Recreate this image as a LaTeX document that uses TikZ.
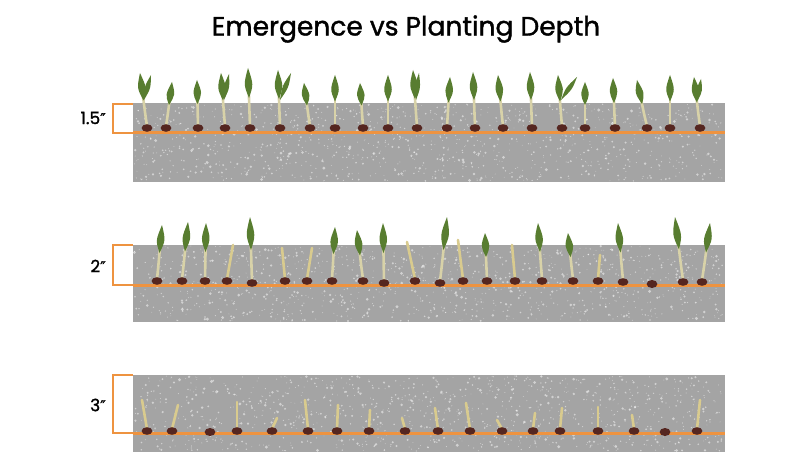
\documentclass[tikz,border=0pt]{standalone}
\usepackage{fontspec}
\setmainfont{Poppins}
\newfontfamily\titlefont{Poppins}[FakeBold=1.3]
\newfontfamily\primefont{DejaVu Sans}[FakeBold=1]
\usetikzlibrary{calc}
\definecolor{soil}{HTML}{A4A4A4}
\definecolor{depthorange}{HTML}{EE9340}
\definecolor{leafgreen}{HTML}{587D30}
\definecolor{stemcream}{HTML}{D8D2A8}
\definecolor{sproutcream}{HTML}{D9CB8E}
\definecolor{seedbrown}{HTML}{552620}
\tikzset{
  soilpanel/.style={fill=soil},
  depthline/.style={draw=depthorange, line width=3},
  bracketline/.style={draw=depthorange, line width=1.6},
  stemline/.style={draw=stemcream, line width=2.6, line cap=round},
  sproutline/.style={draw=sproutcream, line width=2.6, line cap=round},
  leafblade/.style={fill=leafgreen},
  seedgrain/.style={fill=seedbrown},
  speck/.style={fill=white, opacity=0.5},
  titletext/.style={font=\titlefont\fontsize{26.5}{30}\selectfont, text=black},
  depthlabel/.style={font=\titlefont\fontsize{17}{20}\selectfont, text=black, anchor=east, inner sep=0},
}
\newcommand{\dprime}{{\primefont\fontsize{15}{18}\selectfont ″}}
% seedling with green leaf: seed x,y ; tip x,y
\newcommand{\seedling}[4]{%
  \coordinate (S) at (#1,#2);
  \coordinate (T) at (#3,#4);
  \coordinate (B) at ($(S)!0.5!(T)$);
  \draw[stemline] ($(S)+(0,-2)$) .. controls ($(S)!0.5!(B)$) .. ($(B)!0.25!(T)$);
  \fill[leafblade] (B) .. controls ($(B)!0.45!(T)+(-5,0)$) .. (T) .. controls ($(B)!0.45!(T)+(5,0)$) .. (B) -- cycle;
  \fill[seedgrain] (S) ellipse (5.4 and 3.8);
}
% extra blade from leaf base area to a second tip
\newcommand{\blade}[4]{%
  \coordinate (Bb) at (#1,#2);
  \coordinate (Tb) at (#3,#4);
  \fill[leafblade] (Bb) .. controls ($(Bb)!0.5!(Tb)+(-3.2,-1)$) .. (Tb) .. controls ($(Bb)!0.5!(Tb)+(3.2,1)$) .. (Bb) -- cycle;
}
% pale sprout without leaf
\newcommand{\sprout}[4]{%
  \coordinate (S) at (#1,#2);
  \coordinate (T) at (#3,#4);
  \draw[sproutline] ($(S)+(0,-2)$) -- (T);
  \fill[seedgrain] (S) ellipse (5.4 and 3.8);
}
\newcommand{\seedonly}[2]{\fill[seedgrain] (#1,#2) ellipse (5.4 and 4);}
\newcommand{\soiltexture}[2]{%
  \foreach \k in {1,...,1100}{%
    \pgfmathsetmacro\rx{134+589*rnd}%
    \pgfmathsetmacro\ry{#1+1+(#2-#1-2)*rnd}%
    \pgfmathsetmacro\rr{0.4+1.3*rnd*rnd}%
    \fill[speck] (\rx,\ry) circle (\rr);
  }%
}
\begin{document}
\begin{tikzpicture}[x=1pt,y=-1pt]
\useasboundingbox (0,0) rectangle (800,457);
\fill[white] (0,0) rectangle (800,457);
\pgfmathsetseed{7}

\node[titletext] (title) at (406,29) {Emergence vs Planting Depth};

% ---------- soil panels ----------
\fill[soilpanel] (133,103) rectangle (725,182);
\fill[soilpanel] (133,245) rectangle (725,322);
\fill[soilpanel] (133,375) rectangle (725,452);
\soiltexture{103}{182}
\soiltexture{245}{322}
\soiltexture{375}{452}

% ---------- depth lines ----------
\coordinate (l1a) at (133,133); \coordinate (l1b) at (725,133);
\coordinate (l2a) at (133,285); \coordinate (l2b) at (725,285);
\coordinate (l3a) at (133,433); \coordinate (l3b) at (725,433);
\draw[depthline] (l1a) -- (l1b);
\draw[depthline] (l2a) -- (l2b);
\draw[depthline] (l3a) -- (l3b);

% ---------- brackets and labels ----------
\coordinate (b1t) at (133,104); \coordinate (b1b) at (133,133);
\coordinate (b2t) at (133,245); \coordinate (b2b) at (133,285);
\coordinate (b3t) at (133,375); \coordinate (b3b) at (133,433);
\draw[bracketline] (b1t) -- ++(-20,0) |- (b1b);
\draw[bracketline] (b2t) -- ++(-20,0) |- (b2b);
\draw[bracketline] (b3t) -- ++(-20,0) |- (b3b);
\node[depthlabel] (lab1) at (106,118) {1.5\dprime};
\node[depthlabel] (lab2) at (106,266) {2\dprime};
\node[depthlabel] (lab3) at (106,405) {3\dprime};

% ---------- panel 1 : 1.5 inch ----------
\seedling{147}{128}{140}{73}\blade{144}{100}{151}{75}
\seedling{166}{128}{172}{82}
\seedling{198}{128}{197}{80}
\seedling{225}{128}{221}{73}\blade{224}{100}{229}{74}
\seedling{250}{128}{248}{68}
\seedling{280}{128}{278}{70}\blade{280}{100}{291}{73}
\seedling{310}{128}{304}{83}
\seedling{335}{128}{335}{75}
\seedling{363}{128}{360}{83}
\seedling{388}{128}{388}{75}
\seedling{417}{128}{413}{70}\blade{416}{100}{419}{73}
\seedling{447}{128}{450}{77}
\seedling{475}{128}{473}{72}
\seedling{503}{128}{498}{75}
\seedling{532}{128}{530}{72}
\seedling{562}{128}{558}{75}\blade{561}{100}{577}{77}
\seedling{585}{128}{585}{82}
\seedling{615}{128}{613}{78}
\seedling{647}{128}{637}{80}
\seedling{670}{128}{670}{75}
\seedling{700}{128}{694}{77}\blade{698}{100}{701}{79}

% ---------- panel 2 : 2 inch ----------
\seedling{157}{281}{162}{225}
\seedling{182}{281}{188}{222}
\seedling{205}{281}{206}{223}
\sprout{227}{281}{233}{245}
\seedling{252}{283}{250}{217}
\sprout{285}{281}{282}{248}
\sprout{307}{281}{312}{248}
\seedling{332}{281}{335}{227}
\seedling{363}{281}{357}{230}
\seedling{384}{283}{383}{223}
\sprout{415}{281}{407}{242}
\seedling{440}{283}{447}{217}
\sprout{463}{281}{458}{240}
\seedling{487}{281}{485}{233}
\sprout{515}{281}{512}{245}
\seedling{542}{281}{538}{223}
\seedling{573}{281}{568}{233}
\sprout{598}{281}{600}{255}
\seedling{623}{282}{618}{223}
\seedonly{652}{284}
\seedling{683}{282}{675}{217}
\seedling{702}{282}{710}{223}

% ---------- panel 3 : 3 inch ----------
\sprout{147}{431}{142}{400}
\sprout{172}{431}{178}{405}
\seedonly{210}{432}
\sprout{237}{431}{237}{402}
\sprout{272}{431}{277}{418}
\sprout{308}{431}{305}{400}
\sprout{337}{431}{338}{405}
\sprout{369}{431}{370}{410}
\sprout{405}{431}{402}{418}
\sprout{438}{431}{435}{408}
\sprout{470}{431}{466}{403}
\sprout{502}{431}{497}{420}
\sprout{533}{431}{535}{413}
\sprout{560}{431}{562}{408}
\sprout{598}{431}{598}{407}
\sprout{634}{431}{632}{415}
\seedonly{665}{432}
\sprout{697}{431}{700}{400}
\end{tikzpicture}
\end{document}
